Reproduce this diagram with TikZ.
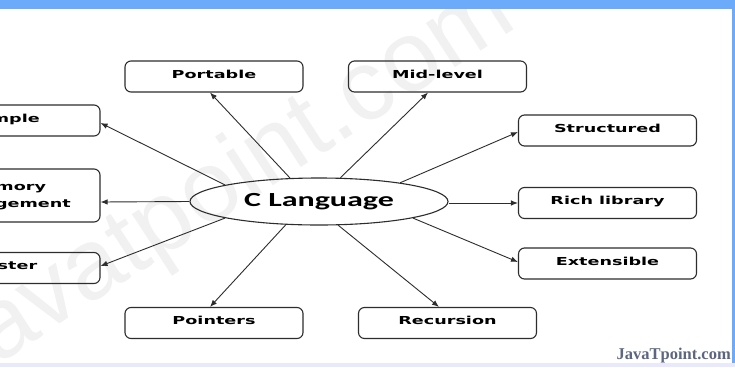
\documentclass[tikz,border=0pt]{standalone}
\usepackage{fontspec}
\usetikzlibrary{shapes.geometric,arrows.meta,calc}
\newfontfamily\labfont{DejaVu Sans}
\newfontfamily\carlfont{Carlito}
\newfontfamily\wmfont{Liberation Sans}
\newfontfamily\jtfont{Liberation Serif}
\definecolor{barblue}{RGB}{108,170,250}
\definecolor{lav}{RGB}{232,234,252}
\definecolor{wmgray}{RGB}{241,241,241}
\definecolor{jtcol}{RGB}{92,102,128}
\definecolor{lncol}{RGB}{45,45,45}
\newcommand{\lbl}[1]{\scalebox{1.6}[1]{\labfont\bfseries\fontsize{11}{17.7}\selectfont\rule[-6pt]{0pt}{15pt}#1}}
\begin{document}
\begin{tikzpicture}[x=1pt,y=-1pt,
  box/.style={draw=lncol, line width=1.1pt, rounded corners=6pt, minimum width=178pt, minimum height=31pt, inner sep=0pt},
  arr/.style={draw=lncol, line width=0.9pt, -{Latex[length=7pt,width=5.5pt]}}]
\useasboundingbox (0,0) rectangle (735,367);
\clip (0,0) rectangle (735,367);
\fill[white] (0,0) rectangle (735,367);
% watermark
\node[text=wmgray, font=\wmfont\fontsize{100}{100}\selectfont, rotate=33, inner sep=0pt] (wmk) at (235,180) {javatpoint.com};
% frame strips
\fill[barblue] (0,0) rectangle (735,9);
\fill[barblue] (732,0) rectangle (735,363);
\fill[lav] (0,363) rectangle (735,367);
% centre
\node[ellipse, draw=lncol, line width=1.1pt, minimum width=258pt, minimum height=47pt, inner sep=0pt] (cl) at (319,201.5)
  {\scalebox{1.6}[1]{\carlfont\bfseries\fontsize{20}{24}\selectfont C Language}};
% boxes
\node[box] (portable) at (214,76.5) {\lbl{Portable}};
\node[box] (midlevel) at (437.5,76.5) {\lbl{Mid-level}};
\node[box, minimum width=188pt] (simple) at (6,120.5) {\lbl{Simple}};
\node[box, minimum width=188pt, minimum height=53pt] (memory) at (6,195.5) {\lbl{\begin{tabular}{@{}c@{}}Memory\\Management\end{tabular}}};
\node[box, minimum width=188pt] (faster) at (6,268) {\lbl{Faster}};
\node[box] (pointers) at (214,323) {\lbl{Pointers}};
\node[box] (recursion) at (447.5,323) {\lbl{Recursion}};
\node[box] (structured) at (607.5,130.5) {\lbl{Structured}};
\node[box] (richlib) at (607.5,203) {\lbl{Rich library}};
\node[box] (extensible) at (607.5,263.5) {\lbl{Extensible}};
% arrows
\draw[arr] (cl.141) -- ($(portable.south)+(-4,0)$);
\draw[arr] (cl.48) -- ($(midlevel.south)+(-9.5,0)$);
\draw[arr] (cl.170) -- ($(simple.east)+(0,2.5)$);
\draw[arr] (cl.180) -- ($(memory.east)+(0,6.5)$);
\draw[arr] (cl.190) -- ($(faster.east)+(0,-2)$);
\draw[arr] (cl.215) -- ($(pointers.north)+(-4,0)$);
\draw[arr] (cl.309) -- ($(recursion.north)+(-8.5,0)$);
\draw[arr] (cl.13) -- ($(structured.west)+(0,1.5)$);
\draw[arr] (cl.east |- richlib.west) -- (richlib.west);
\draw[arr] (cl.350) -- ($(extensible.west)+(0,-1.5)$);
% brand
\node[anchor=base east, text=jtcol, font=\jtfont\bfseries\fontsize{16.5}{18}\selectfont, inner sep=0pt] (brand) at (731,359) {JavaTpoint.com};
\end{tikzpicture}
\end{document}
